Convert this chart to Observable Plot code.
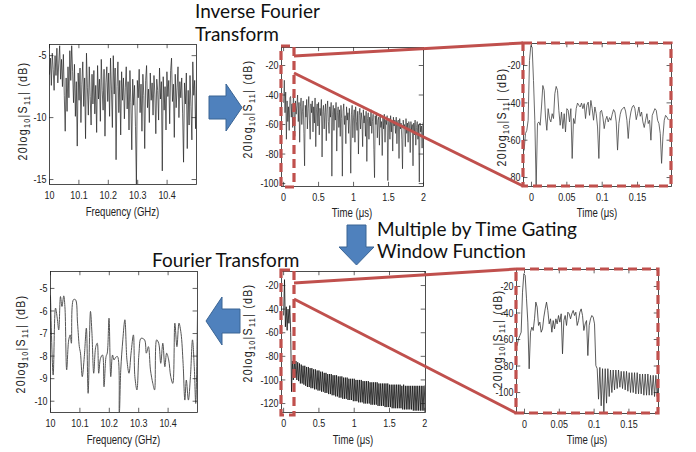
<!DOCTYPE html>
<html><head><meta charset="utf-8">
<script src="https://cdn.jsdelivr.net/npm/d3@7"></script>
<script src="https://cdn.jsdelivr.net/npm/@observablehq/plot@0.6"></script>
<style>
body{margin:0;background:#fff;}
#page{position:relative;width:696px;height:452px;overflow:hidden;background:#fff;}
#page svg{position:absolute;left:0;top:0;}
</style></head><body><div id="page"></div>
<script>
// ---------- data ----------
// Panel 1: measured |S11| (dB) vs frequency, uniform sweep 10 - 10.5 GHz
const p1Start = 10, p1Step = 0.5 / 159;
const p1Values = [
 -6.5,-5.2,-7.4,-4.8,-6.1,-7.8,-5.0,-6.6,-4.4,-7.2,-5.6,-4.2,-6.9,-5.3,-7.5,-4.9,
 -8.2,-11.1,-6.8,-9.5,-5.9,-8.4,-4.6,-7.0,-4.2,-6.3,-8.8,-5.7,-9.9,-7.1,-12.3,-6.4,
 -8.6,-6.0,-10.4,-7.3,-5.5,-9.1,-6.8,-11.7,-4.8,-7.6,-9.8,-5.9,-8.3,-10.6,-6.5,-8.9,
 -6.2,-9.7,-7.4,-11.2,-5.8,-8.5,-6.9,-10.3,-5.3,-7.8,-9.4,-6.1,-11.5,-7.2,-5.9,-8.7,
 -6.4,-9.9,-5.2,-7.7,-10.8,-5.0,-8.1,-6.0,-13.4,-7.5,-5.5,-9.6,-7.0,-11.4,-6.3,-8.6,
 -6.8,-10.1,-7.6,-5.9,-9.3,-7.1,-11.0,-6.2,-8.8,-12.6,-6.9,-9.0,-7.4,-10.7,-15.4,-7.0,
 -8.4,-6.1,-9.6,-7.3,-11.1,-6.5,-8.2,-12.5,-7.0,-5.8,-9.2,-7.7,-10.4,-6.4,-8.6,-7.2,
 -9.8,-6.6,-8.1,-11.3,-6.9,-7.8,-10.2,-6.0,-8.5,-7.1,-14.3,-6.7,-9.4,-7.5,-11.0,-6.3,
 -8.3,-7.0,-10.5,-6.2,-5.2,-8.7,-7.3,-11.6,-6.5,-9.2,-7.6,-5.9,-10.0,-7.1,-8.4,-6.8,
 -9.7,-13.6,-7.2,-8.9,-6.4,-12.5,-7.8,-10.6,-6.6,-9.1,-11.8,-5.5,-8.2,-7.0,-10.9,-6.9
];
// Panel 2: inverse FFT, time 0 - 2 us, step 0.01 us
const p2Start = 0, p2Step = 0.01;
const p2Values = [
 -45,-30,-52,-38,-70,-44,-58,-48,-64,-42,
 -41,-55,-46,-62,-39,-50,-68,-44,-53,-47,
 -40,-58,-45,-72,-48,-42,-60,-51,-44,-66,
 -88,-47,-55,-43,-63,-49,-41,-57,-70,-46,
 -52,-44,-65,-48,-59,-42,-75,-50,-46,-61,
 -45,-67,-49,-54,-43,-82,-51,-47,-63,-52,
 -46,-71,-50,-44,-58,-66,-48,-55,-45,-95,
 -53,-47,-64,-49,-57,-45,-78,-52,-48,-62,
 -50,-68,-47,-56,-95,-51,-46,-60,-54,-73,
 -48,-57,-52,-66,-49,-61,-93,-53,-47,-69,
 -55,-50,-72,-48,-58,-64,-51,-80,-54,-49,
 -63,-52,-57,-75,-50,-59,-54,-68,-51,-85,
 -56,-52,-70,-55,-61,-50,-66,-58,-53,-77,
 -96,-54,-60,-52,-69,-57,-55,-74,-53,-62,
 -58,-81,-55,-63,-53,-72,-57,-60,-54,-98,
 -59,-56,-70,-54,-65,-58,-78,-55,-61,-57,
 -66,-55,-73,-58,-57,-83,-56,-63,-59,-70,
 -90,-57,-62,-60,-75,-56,-66,-59,-72,-58,
 -61,-79,-58,-64,-60,-88,-59,-67,-57,-74,
 -62,-58,-70,-60,-99,-59,-65,-61,-76,-60,
 -58
];
// Panel 3: zoom of the first 0.19 us
const p3Start = -0.01038, p3Step = 0.001887;
const p3Values = [
 -65.3,-56.4,-54.7,-49.3,-17.3,-9.3,-10.2,-28.0,-49.3,-84.9,
 -51.1,-50.2,-52.0,-42.2,-30.7,-33.3,-47.6,-54.7,-43.1,-48.4,
 -50.2,-45.8,-48.4,-35.1,-31.2,-33.3,-44.0,-52.0,-44.9,-53.8,
 -45.8,-55.6,-43.1,-44.0,-50.2,-43.1,-69.8,-48.4,-51.1,-43.1,
 -40.1,-41.3,-42.2,-40.1,-43.1,-40.4,-48.4,-41.3,-39.6,-46.7,
 -38.7,-43.1,-49.3,-42.2,-45.8,-52.9,-69.8,-44.9,-44.0,-47.6,
 -53.8,-49.3,-47.2,-50.2,-47.9,-49.3,-46.1,-43.6,-44.9,-50.2,
 -65.3,-51.1,-46.1,-43.6,-43.1,-42.2,-44.4,-49.3,-59.1,-49.3,
 -44.9,-42.2,-41.3,-43.1,-49.0,-45.8,-42.2,-47.2,-44.9,-50.2,
 -53.2,-49.3,-45.8,-51.1,-49.3,-60.0,-46.7,-44.9,-43.1,-44.0,
 -49.3,-51.1,-56.4,-72.4,-58.2,-49.3,-46.7,-47.6,-49.0
];
// Panel 4: Fourier transform of gated signal (frequency, dB)
const p4Freq = [10.000,10.009,10.017,10.023,10.028,10.034,10.039,10.045,10.049,10.055,
 10.062,10.067,10.071,10.078,10.085,10.092,10.098,10.102,10.108,10.115,
 10.122,10.128,10.136,10.141,10.147,10.154,10.159,10.164,10.170,10.177,
 10.182,10.189,10.193,10.199,10.205,10.211,10.216,10.222,10.228,10.234,
 10.239,10.246,10.253,10.260,10.267,10.274,10.282,10.287,10.294,10.301,
 10.308,10.320,10.326,10.333,10.340,10.348,10.354,10.361,10.368,10.375,
 10.382,10.389,10.395,10.402,10.409,10.416,10.423,10.430,10.437,10.444,
 10.451,10.457,10.462,10.469,10.476,10.483,10.489,10.494,10.500];
const p4Values = [-5.33,-8.84,-5.87,-6.32,-6.84,-5.36,-5.80,-5.33,-5.80,-8.61,
 -7.28,-7.06,-7.43,-5.50,-5.50,-6.54,-7.58,-7.87,-8.91,-8.02,
 -6.76,-9.65,-6.02,-6.99,-8.76,-7.58,-7.43,-8.76,-8.10,-7.95,
 -9.36,-8.02,-7.87,-6.32,-8.91,-7.95,-8.17,-8.05,-8.02,-10.54,
 -8.61,-7.28,-6.39,-8.17,-8.76,-7.87,-7.06,-8.91,-9.50,-7.87,
 -7.21,-7.28,-7.87,-7.58,-8.61,-9.21,-9.50,-7.28,-7.43,-8.32,
 -7.43,-8.47,-7.87,-8.17,-8.91,-9.21,-6.54,-7.58,-6.54,-6.99,
 -8.32,-9.95,-9.06,-9.95,-8.91,-7.28,-8.47,-10.10,-6.10];
// Panel 5: time-gated signal, 0 - 2 us, step 0.0125 us
const p5Start = 0, p5Step = 0.0125;
const p5Values = [
 -45,-15,-55,-38,-58,-40,-52,-37,-60,-110,-84,-100,
 -82,-98,-84,-100,-85,-101,-86,-103,-87,-103,
 -88,-104,-88,-105,-89,-106,-89,-106,-90,-107,
 -90,-107,-91,-108,-91,-108,-92,-109,-92,-109,
 -93,-110,-93,-110,-94,-111,-94,-111,-95,-112,
 -95,-112,-95,-113,-96,-113,-96,-114,-96,-114,
 -97,-115,-97,-115,-97,-116,-98,-116,-98,-116,
 -98,-117,-99,-117,-99,-117,-99,-118,-99,-118,
 -100,-118,-100,-119,-100,-119,-100,-119,-101,-120,
 -101,-120,-101,-120,-101,-120,-102,-121,-102,-121,
 -102,-121,-102,-121,-102,-122,-103,-122,-103,-122,
 -103,-122,-103,-123,-103,-123,-103,-123,-104,-123,
 -104,-124,-104,-124,-104,-124,-104,-124,-104,-124,
 -104,-124,-105,-125,-104,-125,-105,-125,-105,-125,
 -105,-125,-105,-125,-105,-126,-105,-126,-105,-126,
 -105,-126,-105,-126,-105,-126,-105,-126,-105
];
// Panel 6: zoom of gated signal
const p6Start = -0.01054, p6Step = 0.001916;
const p6Values = [
 -64.5,-59.5,-57.0,-54.5,-24.3,-10.4,-11.7,-29.3,-46.9,-82.1,
 -54.5,-50.7,-53.2,-44.4,-31.8,-35.6,-49.4,-46.9,-54.5,-52.0,
 -43.1,-36.9,-31.8,-38.1,-48.2,-44.4,-54.5,-45.7,-52.0,-44.4,
 -48.2,-41.9,-46.9,-40.6,-70.8,-45.7,-41.9,-49.4,-39.4,-40.6,
 -44.4,-40.6,-38.1,-41.9,-39.4,-49.4,-45.7,-39.4,-36.9,-41.9,
 -53.2,-48.2,-45.7,-72.1,-49.4,-44.4,-41.9,-43.1,-48.2,-79.6,
 -82,-105,-81,-110,-82,-115,-82,-108,-82,-103,
 -83,-100,-83,-98,-83,-97,-83,-96,-84,-97,
 -84,-98,-84,-99,-85,-100,-85,-100,-85,-101,
 -85,-101,-86,-101,-86,-102,-86,-102,-86,-102,
 -87,-102,-87,-103,-87,-103,-87,-103,-87
];
// tick labels
const freqTicks = [10, 10.1, 10.2, 10.3, 10.4];
const timeTicks = [0, 0.5, 1, 1.5, 2];
const zoomTicks = [0, 0.05, 0.1, 0.15];
const p1YTicks = [-15, -10, -5];
const p2YTicks = [-100, -80, -60, -40, -20];
const p3YTicks = [-80, -60, -40, -20];
const p4YTicks = [-10, -9, -8, -7, -6, -5];
const p5YTicks = [-120, -100, -80, -60, -40, -20];
const p6YTicks = [-100, -80, -60, -40, -20];
// texts
const freqLabel = "Frequency (GHz)";
const timeLabel = "Time (\u03bcs)";
const stepTexts = [["Inverse Fourier", "Transform"], ["Multiple by Time Gating", "Window Function"], ["Fourier Transform"]];

// ---------- build ----------
const uniform = (start, step, vals) => vals.map((v, i) => ({x: start + i * step, y: v}));
const paired = (xs, ys) => xs.map((x, i) => ({x, y: ys[i]}));

const AXFONT = "'Liberation Sans', Arial, sans-serif";
const NARROW = 0.78;
const BIGFONT = "Lato, 'Open Sans', sans-serif";
const RED = "#c0504d";
const W = 696, H = 452;
const page = document.getElementById("page");

const panels = [
 {frame:[49,196,44,184], xd:[10,10.5], yd:[-15.4,-4.1], xt:freqTicks, yt:p1YTicks, data:uniform(p1Start,p1Step,p1Values), stroke:"#222", sw:0.7, curve:"linear", xl:freqLabel, xlY:216, yl:[23,111]},
 {frame:[281,423,47,186], xd:[-0.03,2], yd:[-102,-7.8], xt:timeTicks, yt:p2YTicks, data:uniform(p2Start,p2Step,p2Values), stroke:"#1a1a1a", sw:0.6, curve:"linear", xl:timeLabel, xlY:217, yl:[248,109]},
 {frame:[523,671,43,186], xd:[-0.0113,0.198], yd:[-84.8,-8.2], xt:zoomTicks, yt:p3YTicks, data:uniform(p3Start,p3Step,p3Values), stroke:"#444", sw:0.8, curve:"linear", xl:timeLabel, xlY:217, yl:[502,117]},
 {frame:[50,197,271,412], xd:[10,10.5], yd:[-10.5,-4.25], xt:freqTicks, yt:p4YTicks, data:paired(p4Freq,p4Values), stroke:"#555", sw:1, curve:"catmull-rom", xl:freqLabel, xlY:444, yl:[21,344]},
 {frame:[281,425,271,412], xd:[-0.03,2.01], yd:[-127.6,-8.1], xt:timeTicks, yt:p5YTicks, data:uniform(p5Start,p5Step,p5Values), stroke:"#111", sw:0.8, curve:"linear", xl:timeLabel, xlY:444, yl:[248,333]},
 {frame:[516,658,269,413], xd:[-0.0115,0.1925], yd:[-115.8,-7.2], xt:zoomTicks, yt:p6YTicks, data:uniform(p6Start,p6Step,p6Values), stroke:"#333", sw:0.8, curve:"linear", xl:timeLabel, xlY:444, yl:[498,339]}
];

function narrowText(el, k) {
  let t = el.getAttribute("transform");
  if (!t) {
    const x = +el.getAttribute("x") || 0, y = +el.getAttribute("y") || 0;
    el.removeAttribute("x"); el.removeAttribute("y");
    t = `translate(${x},${y})`;
  }
  el.setAttribute("transform", `${t} scale(${k},1)`);
}

for (const p of panels) {
  const [L, R, T, B] = p.frame;
  const [x0, x1] = p.xd, [y0, y1] = p.yd;
  const tx = (x1 - x0) * 0.03, ty = (y1 - y0) * 0.03;
  const tick = {stroke: "#222", strokeWidth: 0.7};
  const svg = Plot.plot({
    width: W, height: H,
    marginLeft: L, marginRight: W - R, marginTop: T, marginBottom: H - B,
    style: {position: "absolute", left: "0px", top: "0px", background: "transparent", overflow: "visible", fontFamily: AXFONT, fontSize: "11.5px", color: "#222"},
    x: {domain: p.xd}, y: {domain: p.yd},
    marks: [
      Plot.line(p.data, {x: "x", y: "y", stroke: p.stroke, strokeWidth: p.sw, curve: p.curve, clip: true}),
      Plot.ruleX(p.xt, {x: d => d, y1: y0, y2: y0 + ty, ...tick}),
      Plot.ruleX(p.xt, {x: d => d, y1: y1, y2: y1 - ty, ...tick}),
      Plot.ruleY(p.yt, {y: d => d, x1: x0, x2: x0 + tx, ...tick}),
      Plot.ruleY(p.yt, {y: d => d, x1: x1, x2: x1 - tx, ...tick}),
      Plot.frame({stroke: "#222", strokeWidth: 0.8}),
      Plot.axisX({ticks: p.xt, tickSize: 0, tickPadding: 6, label: null, tickFormat: d => String(d), fontSize: 11.5}),
      Plot.axisY({ticks: p.yt, tickSize: 0, tickPadding: 3, label: null, tickFormat: d => String(d), fontSize: 11.5})
    ]
  });
  const s = d3.select(svg);
  s.selectAll('g[aria-label$="tick label"] text').each(function() { narrowText(this, NARROW); });
  const xl = s.append("text").attr("x", (L + R) / 2).attr("y", p.xlY).attr("text-anchor", "middle")
    .style("font-family", AXFONT).style("font-size", "12px").attr("fill", "#222").text(p.xl);
  narrowText(xl.node(), 0.8);
  const yl = s.append("text").attr("transform", `translate(${p.yl[0] + 4},${p.yl[1]}) rotate(-90) scale(0.85,1)`)
    .attr("text-anchor", "middle").style("font-family", AXFONT).style("font-size", "12.5px")
    .style("letter-spacing", "1.5px").attr("fill", "#222");
  yl.append("tspan").text("20log");
  yl.append("tspan").attr("dy", 3).style("font-size", "8.5px").text("10");
  yl.append("tspan").attr("dy", -3).text("|S");
  yl.append("tspan").attr("dy", 3).style("font-size", "8.5px").text("11");
  yl.append("tspan").attr("dy", -3).text("| (dB)");
  page.appendChild(svg);
}

// ---------- overlay annotations (pixel space) ----------
const arrows = [
  [[209,96],[226,96],[226,84],[242,107.5],[226,131],[226,119],[209,119]],
  [[347,225],[366,225],[366,247],[374,247],[356.5,265],[339,247],[347,247]],
  [[240,309],[222,309],[222,297],[206,321],[222,345],[222,333],[240,333]]
];
const zoomLines = [[294,56,523,43],[294,73,523,186],[294,283,516,269],[294,299,516,413]];
const dashBoxes = [[281,46,294,187],[523,43,671,186],[281,270,294,415],[516,269,658,413]];
const textPos = [[195,[17.5,40.5]],[377,[236,258]],[152,[267]]];

const ov = d3.create("svg").attr("width", W).attr("height", H).attr("viewBox", `0 0 ${W} ${H}`)
  .style("position", "absolute").style("left", "0px").style("top", "0px");
for (const b of dashBoxes) {
  ov.append("rect").attr("x", b[0]).attr("y", b[1]).attr("width", b[2]-b[0]).attr("height", b[3]-b[1])
    .attr("fill", "none").attr("stroke", RED).attr("stroke-width", 3.2).attr("stroke-dasharray", "9,5");
}
for (const l of zoomLines) {
  ov.append("line").attr("x1", l[0]).attr("y1", l[1]).attr("x2", l[2]).attr("y2", l[3])
    .attr("stroke", RED).attr("stroke-width", 3);
}
for (const a of arrows) {
  ov.append("polygon").attr("points", a.map(p => p.join(",")).join(" "))
    .attr("fill", "#4f81bd").attr("stroke", "#3a6494").attr("stroke-width", 1);
}
stepTexts.forEach((lines, i) => {
  const [x, ys] = textPos[i];
  lines.forEach((t, j) => {
    ov.append("text").attr("x", x).attr("y", ys[j]).style("font-family", BIGFONT).style("font-size", "19px")
      .attr("fill", "#111").text(t);
  });
});
page.appendChild(ov.node());
</script></body></html>
